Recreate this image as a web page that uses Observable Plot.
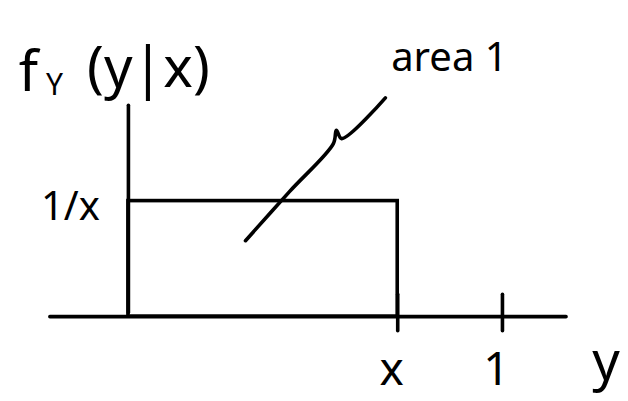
<!DOCTYPE html>
<html>
<head>
<meta charset="utf-8">
<script src="https://cdn.jsdelivr.net/npm/d3@7"></script>
<script src="https://cdn.jsdelivr.net/npm/@observablehq/plot@0.6"></script>
<style>
  html, body { margin: 0; padding: 0; background: #fff; }
  #chart svg { display: block; }
</style>
</head>
<body>
<div id="chart"></div>
<script>
// Conditional density of Y given X = x: uniform on [0, x], height 1/x.
const xValue = 0.72;                 // the conditioning value x (0 < x < 1)
const density = 1 / xValue;          // height of the uniform density
const axisX = [-0.21, 1.17];         // horizontal (y) axis extent
const axisYTop = 2.54;               // top of the vertical density axis
const tickPositions = [xValue, 1];   // marked points on the y axis
const tickLabels = ["x", "1"];
const tickLength = [-0.17, 0.27];
// pointer from inside the rectangle to the "area 1" note, with its little hook
const pointerX = [0.313, 0.43, 0.548, 0.556, 0.570, 0.687];
const pointerY = [0.913, 1.5, 2.08, 2.24, 2.14, 2.63];

const ink = "#000";
const font = "Noto Sans, sans-serif";
const sw = 3.6;

const ticks = tickPositions.map((t, i) => ({t, label: tickLabels[i]}));
const pointer = pointerX.map((x, i) => ({x, y: pointerY[i]}));

const chart = Plot.plot({
  width: 628,
  height: 401,
  margin: 0,
  x: {domain: [-0.342, 1.337], axis: null},
  y: {domain: [-1.02, 3.80], axis: null},
  style: {background: "#fff"},
  marks: [
    // horizontal axis (values of y)
    Plot.line([{x: axisX[0], y: 0}, {x: axisX[1], y: 0}], {x: "x", y: "y", stroke: ink, strokeWidth: sw, strokeLinecap: "round"}),
    // vertical axis (density)
    Plot.line([{x: 0, y: 0.05}, {x: 0, y: axisYTop}], {x: "x", y: "y", stroke: ink, strokeWidth: sw, strokeLinecap: "round"}),
    // uniform density on [0, x]
    Plot.rect([{x1: 0, x2: xValue, y1: 0, y2: density}], {x1: "x1", x2: "x2", y1: "y1", y2: "y2", fill: "none", stroke: ink, strokeWidth: sw}),
    // tick marks
    Plot.link(ticks, {x1: "t", x2: "t", y1: () => tickLength[0], y2: () => tickLength[1], stroke: ink, strokeWidth: sw, strokeLinecap: "round"}),
    // tick labels
    Plot.text(ticks, {x: "t", y: () => 0, text: "label", dx: -6, dy: 54, fontSize: 46, fontFamily: font, fill: ink}),
    // axis name y
    Plot.text([axisX[1]], {x: (d) => d, y: () => 0, text: () => "y", dx: 40, dy: 46, fontSize: 54, fontFamily: font, fill: ink}),
    // density label 1/x
    Plot.text([density], {x: () => 0, y: (d) => d, text: () => "1/x", dx: -58, dy: 6, fontSize: 40, fontFamily: font, fill: ink}),
    // density axis name f_Y(y|x)
    Plot.text([axisYTop], {x: () => 0, y: (d) => d, text: () => "f", dx: -100, dy: -32, fontSize: 56, fontFamily: font, fill: ink}),
    Plot.text([axisYTop], {x: () => 0, y: (d) => d, text: () => "Y", dx: -74, dy: -20, fontSize: 30, fontFamily: font, fill: ink}),
    Plot.text([axisYTop], {x: () => 0, y: (d) => d, text: () => "(y|x)", dx: 20, dy: -36, fontSize: 56, fontFamily: font, fill: ink}),
    // pointer and note
    Plot.line(pointer, {x: "x", y: "y", curve: "catmull-rom", stroke: ink, strokeWidth: sw, strokeLinecap: "round", strokeLinejoin: "round"}),
    Plot.text([pointer[pointer.length - 1]], {x: "x", y: "y", text: () => "area 1", dx: 64, dy: -40, fontSize: 40, fontFamily: font, fill: ink})
  ]
});

document.getElementById("chart").appendChild(chart);
</script>
</body>
</html>
